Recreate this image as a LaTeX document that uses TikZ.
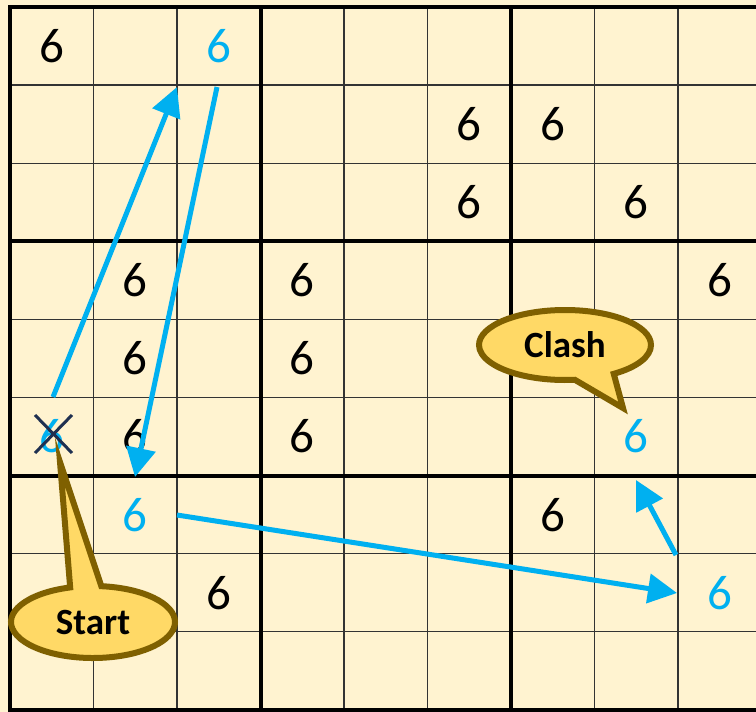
\documentclass[tikz,border=0pt]{standalone}
\usepackage{fontspec}
\setmainfont{Carlito}
\usetikzlibrary{arrows.meta,shapes.callouts,shapes.geometric,calc}
\definecolor{bg}{HTML}{FFF3D0}
\definecolor{skyb}{HTML}{00B0F0}
\definecolor{goldf}{HTML}{FFD966}
\definecolor{brownb}{HTML}{7F6000}
\definecolor{navyx}{HTML}{1F3050}
\definecolor{gridg}{HTML}{333333}
\begin{document}
\begin{tikzpicture}[x=1pt,y=-1pt,
  digit/.style={inner sep=0pt, font=\fontsize{49}{51}\selectfont},
  blk/.style={digit, text=black},
  blu/.style={digit, text=skyb},
  thingrid/.style={draw=gridg, line width=1.3pt},
  thickgrid/.style={draw=black, line width=4pt},
  movearrow/.style={draw=skyb, line width=5pt, -{Triangle[length=29pt,width=29pt]}},
  bubble/.style={ellipse callout, fill=goldf, draw=brownb, line width=6pt,
    inner sep=0pt, font=\fontsize{37}{39}\selectfont\bfseries, text=black},
  crossline/.style={draw=navyx, line width=3pt}
]
\useasboundingbox (0,0) rectangle (756,712);
\clip (0,0) rectangle (756,712);
\fill[bg] (0,0) rectangle (756,712);
% thin grid
\foreach \i in {1,2,4,5,7,8} {
  \draw[thingrid] ({10+83.5*\i},7) -- ({10+83.5*\i},710);
}
\foreach \j in {1,2,4,5,7,8} {
  \draw[thingrid] (10,{7+78.1*\j}) -- (761.5,{7+78.1*\j});
}
% thick grid
\foreach \i in {0,3,6,9} {
  \draw[thickgrid] ({10+83.5*\i},5) -- ({10+83.5*\i},712);
}
\foreach \j in {0,3,6,9} {
  \draw[thickgrid] (8,{7+78.1*\j}) -- (763.5,{7+78.1*\j});
}
% black digits
\foreach \r/\c in {0/0, 1/5, 1/6, 2/5, 2/7, 3/1, 3/3, 3/8, 4/1, 4/3, 5/1, 5/3, 6/6, 7/2} {
  \node[blk] (d\r\c) at ({10+83.5*(\c+0.5)},{7+78.1*(\r+0.5)}) {6};
}
% blue digits
\foreach \r/\c in {0/2, 5/0, 5/7, 6/1, 7/8} {
  \node[blu] (d\r\c) at ({10+83.5*(\c+0.5)},{7+78.1*(\r+0.5)}) {6};
}
% cross over the start digit
\draw[crossline] (35,415) -- (72,453);
\draw[crossline] (72,415) -- (35,453);
% arrow coordinates
\coordinate (s1) at (53,397);
\coordinate (e1) at (177,87);
\coordinate (s2) at (217,87);
\coordinate (e2) at (135,477);
\coordinate (s3) at (177,515);
\coordinate (e3) at (677,593);
\coordinate (s4) at (676,555);
\coordinate (e4) at (636,480);
\draw[movearrow] (s1) -- (e1);
\draw[movearrow] (s2) -- (e2);
\draw[movearrow] (s3) -- (e3);
\draw[movearrow] (s4) -- (e4);
% callouts
\coordinate (starttip) at (60,462);
\coordinate (clashtip) at (623,408);
\node[bubble, minimum width=164pt, minimum height=72pt, callout pointer arc=22,
  callout absolute pointer=(starttip)] (start) at (93,622) {Start};
\node[bubble, minimum width=172pt, minimum height=70pt, callout pointer arc=28,
  callout absolute pointer=(clashtip)] (clash) at (565,345) {Clash};
\end{tikzpicture}
\end{document}
